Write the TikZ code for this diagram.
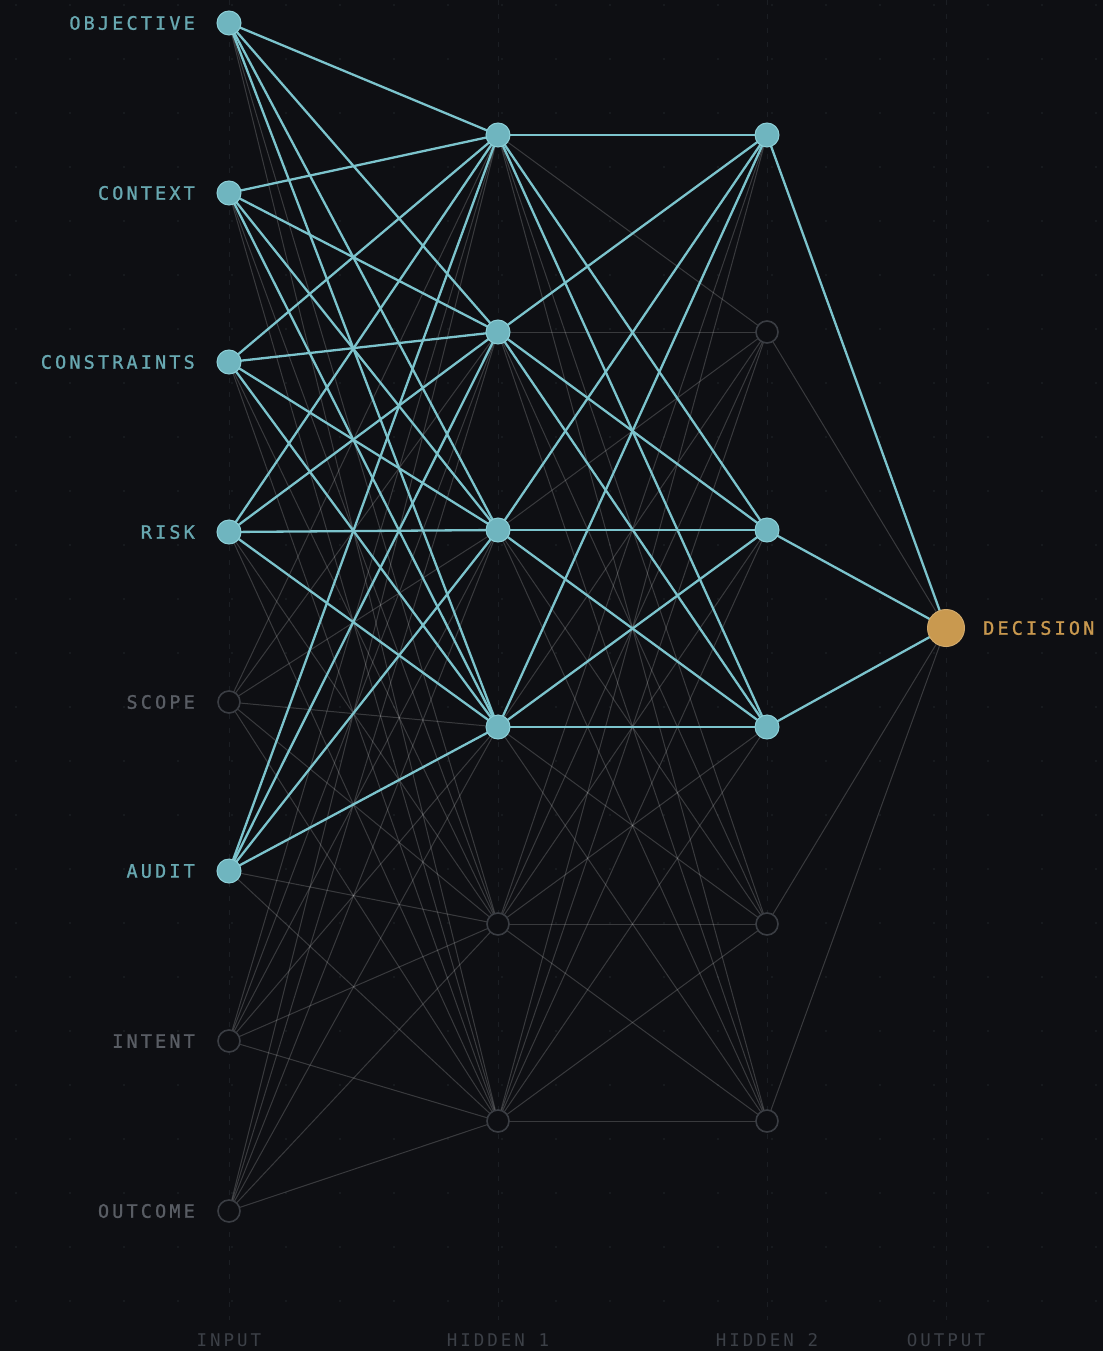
\documentclass[tikz,border=0pt]{standalone}
\usepackage{fontspec}
\newfontfamily\labelfont[LetterSpace=17,FakeBold=1.2]{DejaVu Sans Mono}
\newfontfamily\laylabfont[LetterSpace=17]{DejaVu Sans Mono}
\definecolor{bgc}{HTML}{0E0F13}
\definecolor{tealn}{HTML}{6FB5BF}
\definecolor{teale}{HTML}{7CC4CD}
\definecolor{tealr}{HTML}{8CCFD7}
\definecolor{tealt}{HTML}{68A8B1}
\definecolor{offn}{HTML}{3A3D43}
\definecolor{offt}{HTML}{595D64}
\definecolor{layt}{HTML}{3C4047}
\definecolor{gold}{HTML}{C9994F}
\definecolor{dotc}{HTML}{1B1E23}
\pgfdeclarelayer{bg}
\pgfdeclarelayer{edges}
\pgfsetlayers{bg,edges,main}
\tikzset{
  onnode/.style={circle,fill=tealn,draw=tealr,line width=1pt,minimum size=24pt,inner sep=0pt},
  offnode/.style={circle,fill=bgc,draw=offn,line width=1.6pt,minimum size=22pt,inner sep=0pt},
  outnode/.style={circle,fill=gold,draw=gold!85!white,line width=1pt,minimum size=37pt,inner sep=0pt},
  offedge/.style={draw=white,draw opacity=0.18,line width=1pt},
  onedge/.style={draw=teale,line width=2.3pt},
  inlab/.style={font=\labelfont\fontsize{18.5}{21}\selectfont,anchor=east,inner sep=0pt},
  laylab/.style={font=\laylabfont\fontsize{17.5}{20}\selectfont,text=layt,inner sep=0pt},
}
\begin{document}
\begin{tikzpicture}[x=1pt,y=-1pt]
\useasboundingbox (0,0) rectangle (1103,1351);
\begin{pgfonlayer}{bg}
  \fill[bgc] (0,0) rectangle (1103,1351);
  \foreach \gx in {0,...,20} {
    \foreach \gy in {0,...,24} {
      \fill[dotc] (16+54*\gx,5+54*\gy) circle (1.1pt);
    }
  }
  \foreach \lx in {229,498,767,946} {
    \draw[dotc,line width=1pt,dash pattern=on 5pt off 9pt] (\lx,0) -- (\lx,1320);
  }
\end{pgfonlayer}
% input nodes
\foreach \i/\y/\a/\t in {1/23/1/OBJECTIVE,2/193/1/CONTEXT,3/362/1/CONSTRAINTS,4/532/1/RISK,5/702/0/SCOPE,6/871/1/AUDIT,7/1041/0/INTENT,8/1211/0/OUTCOME} {
  \ifnum\a=1
    \node[onnode] (i\i) at (229,\y) {};
    \node[inlab,text=tealt] (li\i) at (195,\y) {\t};
  \else
    \node[offnode] (i\i) at (229,\y) {};
    \node[inlab,text=offt] (li\i) at (195,\y) {\t};
  \fi
}
% hidden 1
\foreach \h/\y/\a in {1/135/1,2/332/1,3/530/1,4/727/1,5/924/0,6/1121/0} {
  \ifnum\a=1 \node[onnode] (a\h) at (498,\y) {};
  \else \node[offnode] (a\h) at (498,\y) {}; \fi
}
% hidden 2
\foreach \h/\y/\a in {1/135/1,2/332/0,3/530/1,4/727/1,5/924/0,6/1121/0} {
  \ifnum\a=1 \node[onnode] (b\h) at (767,\y) {};
  \else \node[offnode] (b\h) at (767,\y) {}; \fi
}
\node[outnode] (out) at (946,628) {};
\node[font=\labelfont\fontsize{18.5}{21}\selectfont,text=gold,anchor=west,inner sep=0pt] (lout) at (983,628) {DECISION};
% layer labels
\node[laylab] (l1) at (229,1340) {INPUT};
\node[laylab] (l2) at (498,1340) {HIDDEN 1};
\node[laylab] (l3) at (767,1340) {HIDDEN 2};
\node[laylab] (l4) at (946,1340) {OUTPUT};
% edges
\begin{pgfonlayer}{edges}
  \foreach \i/\ia in {1/1,2/1,3/1,4/1,5/0,6/1,7/0,8/0} {
    \foreach \h/\ha in {1/1,2/1,3/1,4/1,5/0,6/0} {
      \pgfmathtruncatemacro\tt{\ia*\ha}
      \ifnum\tt=0 \draw[offedge] (i\i.center) -- (a\h.center); \fi
    }
  }
  \foreach \h/\ha in {1/1,2/1,3/1,4/1,5/0,6/0} {
    \foreach \k/\ka in {1/1,2/0,3/1,4/1,5/0,6/0} {
      \pgfmathtruncatemacro\tt{\ha*\ka}
      \ifnum\tt=0 \draw[offedge] (a\h.center) -- (b\k.center); \fi
    }
  }
  \foreach \k/\ka in {1/1,2/0,3/1,4/1,5/0,6/0} {
    \ifnum\ka=0 \draw[offedge] (b\k.center) -- (out.center); \fi
  }
  \foreach \i/\ia in {1/1,2/1,3/1,4/1,5/0,6/1,7/0,8/0} {
    \foreach \h/\ha in {1/1,2/1,3/1,4/1,5/0,6/0} {
      \pgfmathtruncatemacro\tt{\ia*\ha}
      \ifnum\tt=1 \draw[onedge] (i\i.center) -- (a\h.center); \fi
    }
  }
  \foreach \h/\ha in {1/1,2/1,3/1,4/1,5/0,6/0} {
    \foreach \k/\ka in {1/1,2/0,3/1,4/1,5/0,6/0} {
      \pgfmathtruncatemacro\tt{\ha*\ka}
      \ifnum\tt=1 \draw[onedge] (a\h.center) -- (b\k.center); \fi
    }
  }
  \foreach \k/\ka in {1/1,2/0,3/1,4/1,5/0,6/0} {
    \ifnum\ka=1 \draw[onedge] (b\k.center) -- (out.center); \fi
  }
\end{pgfonlayer}
\end{tikzpicture}
\end{document}
